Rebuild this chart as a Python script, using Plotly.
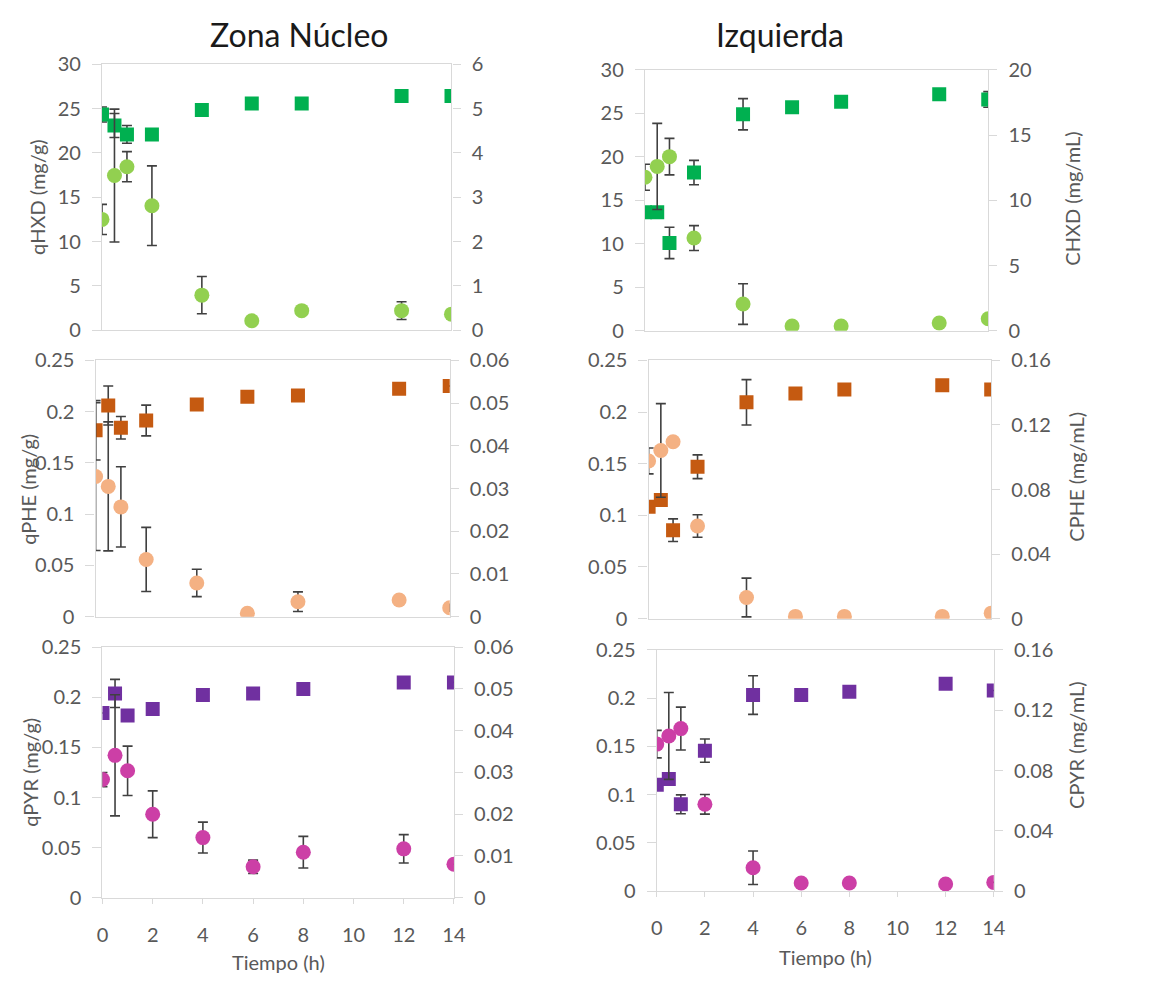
import plotly.graph_objects as go

W, H = 1163, 989

# ---------------- data ----------------
tiempo = [0, 0.5, 1, 2, 4, 6, 8, 12, 14]
x_ticks = [0, 2, 4, 6, 8, 10, 12, 14]

# Zona Núcleo - HXD
qHXD_nucleo = [24.35, 23.1, 22.1, 22.1, 24.86, 25.6, 25.6, 26.44, 26.44]
qHXD_nucleo_err = [0.85, 1.36, 1.0, 0, 0.4, 0, 0.6, 0, 0]
CHXD_nucleo = [2.5, 3.49, 3.69, 2.81, 0.79, 0.21, 0.44, 0.44, 0.36]
CHXD_nucleo_err = [0.34, 1.5, 0.34, 0.9, 0.42, 0.06, 0, 0.2, 0.1]

# Izquierda - HXD
qHXD_izq = [13.62, 13.62, 10.1, 18.2, 24.9, 25.7, 26.34, 27.2, 26.6]
qHXD_izq_err = [0, 0, 1.8, 1.4, 1.8, 0, 0, 0, 0.9]
CHXD_izq = [11.77, 12.6, 13.35, 7.11, 2.05, 0.37, 0.37, 0.6, 0.92]
CHXD_izq_err = [1.0, 3.3, 1.4, 0.95, 1.56, 0, 0, 0, 0]

# Zona Núcleo - PHE
qPHE_nucleo = [0.1818, 0.206, 0.1843, 0.1913, 0.207, 0.2145, 0.2157, 0.2224, 0.225]
qPHE_nucleo_err = [0.029, 0.019, 0.011, 0.015, 0, 0, 0, 0, 0]
CPHE_nucleo = [0.0328, 0.0305, 0.0257, 0.0134, 0.0079, 0.0008, 0.0035, 0.0039, 0.0021]
CPHE_nucleo_err = [0.0173, 0.0151, 0.0094, 0.0075, 0.0032, 0.0005, 0.0023, 0.001, 0.0008]

# Izquierda - PHE
qPHE_izq = [0.1083, 0.1149, 0.0856, 0.147, 0.2094, 0.2179, 0.2217, 0.2258, 0.2217]
qPHE_izq_err = [0, 0.004, 0.011, 0.0115, 0.022, 0, 0, 0, 0]
CPHE_izq = [0.0977, 0.1042, 0.1096, 0.0574, 0.0131, 0.0014, 0.0014, 0.0014, 0.0034]
CPHE_izq_err = [0.008, 0.029, 0, 0.007, 0.012, 0, 0, 0, 0.002]

# Zona Núcleo - PYR
qPYR_nucleo = [0.1844, 0.2039, 0.1818, 0.1883, 0.2023, 0.2039, 0.2084, 0.2149, 0.2149]
qPYR_nucleo_err = [0, 0.014, 0.004, 0, 0, 0, 0, 0, 0]
CPYR_nucleo = [0.0283, 0.0341, 0.0304, 0.020, 0.0144, 0.0074, 0.0109, 0.0117, 0.008]
CPYR_nucleo_err = [0.0017, 0.0145, 0.0059, 0.0056, 0.0037, 0.0016, 0.0038, 0.0034, 0]

# Izquierda - PYR
qPYR_izq = [0.1102, 0.1162, 0.09, 0.1456, 0.2032, 0.2032, 0.2065, 0.215, 0.2079]
qPYR_izq_err = [0, 0.004, 0.0098, 0.012, 0.02, 0, 0, 0, 0]
CPYR_izq = [0.0975, 0.1029, 0.1078, 0.0576, 0.0155, 0.0054, 0.0054, 0.0047, 0.0058]
CPYR_izq_err = [0.0091, 0.0288, 0.0142, 0.0065, 0.0111, 0, 0, 0, 0]

col_titles = ["Zona Núcleo", "Izquierda"]
left_titles = ["qHXD (mg/g)", "qPHE (mg/g)", "qPYR (mg/g)"]
right_titles = ["CHXD (mg/mL)", "CPHE (mg/mL)", "CPYR (mg/mL)"]
x_title = "Tiempo (h)"

# ---------------- styling ----------------
FONT = "Lato"
TXT = "#595959"
LINE = "#D9D9D9"
ERR = "#404040"

panels = [
    (qHXD_nucleo, qHXD_nucleo_err, CHXD_nucleo, CHXD_nucleo_err, "#00B050", "#92D050",
     [0, 30], 5, [0, 6], 1, (97.5, 452.5, 52.7, 325.0)),
    (qHXD_izq, qHXD_izq_err, CHXD_izq, CHXD_izq_err, "#00B050", "#92D050",
     [0, 30], 5, [0, 20], 5, (649.0, 997.7, 58.3, 325.7)),
    (qPHE_nucleo, qPHE_nucleo_err, CPHE_nucleo, CPHE_nucleo_err, "#C55A11", "#F4B183",
     [0, 0.25], 0.05, [0, 0.06], 0.01, (91.0, 450.7, 356.0, 618.7)),
    (qPHE_izq, qPHE_izq_err, CPHE_izq, CPHE_izq_err, "#C55A11", "#F4B183",
     [0, 0.25], 0.05, [0, 0.16], 0.04, (652.7, 1000.7, 356.0, 620.7)),
    (qPYR_nucleo, qPYR_nucleo_err, CPYR_nucleo, CPYR_nucleo_err, "#7030A0", "#CC3FA6",
     [0, 0.25], 0.05, [0, 0.06], 0.01, (98.0, 455.0, 650.0, 906.7)),
    (qPYR_izq, qPYR_izq_err, CPYR_izq, CPYR_izq_err, "#7030A0", "#CC3FA6",
     [0, 0.25], 0.05, [0, 0.16], 0.04, (661.0, 1003.3, 652.7, 900.0)),
]

fig = go.Figure()
layout = {}

for i, (q, qe, c, ce, sq_col, ci_col, lr, ld, rr, rd, box) in enumerate(panels):
    n = i + 1
    xa = "x" if n == 1 else f"x{n}"
    yl_id = 2 * n - 1
    yr_id = 2 * n
    yl = "y" if yl_id == 1 else f"y{yl_id}"
    yr = f"y{yr_id}"
    x0, x1, ytop, ybot = box
    xdom = [x0 / W, x1 / W]
    ydom = [1 - ybot / H, 1 - ytop / H]
    bottom_row = i >= 4

    layout["xaxis" if n == 1 else f"xaxis{n}"] = dict(
        domain=xdom, anchor=yl, range=[0, 14], tickvals=x_ticks,
        showline=True, linecolor=LINE, linewidth=1.3, mirror=True,
        showgrid=False, zeroline=False,
        ticks="outside" if bottom_row else "", ticklen=5, tickcolor=LINE,
        showticklabels=bottom_row, ticklabelstandoff=14,
        tickfont=dict(family=FONT, size=20, color=TXT),
    )
    layout["yaxis" if yl_id == 1 else f"yaxis{yl_id}"] = dict(
        domain=ydom, anchor=xa, range=lr, dtick=ld, tick0=0,
        showline=True, linecolor=LINE, linewidth=1.3,
        showgrid=False, zeroline=False,
        ticks="outside", ticklen=9, tickcolor=LINE,
        ticklabelstandoff=7,
        tickfont=dict(family=FONT, size=20, color=TXT),
    )
    layout[f"yaxis{yr_id}"] = dict(
        domain=ydom, anchor=xa, overlaying=yl, side="right", range=rr, dtick=rd, tick0=0,
        showline=True, linecolor=LINE, linewidth=1.3,
        showgrid=False, zeroline=False,
        ticks="outside", ticklen=8, tickcolor=LINE,
        ticklabelstandoff=7,
        tickfont=dict(family=FONT, size=20, color=TXT),
    )

    fig.add_trace(go.Scatter(
        x=tiempo, y=q, xaxis=xa, yaxis=yl, mode="markers",
        marker=dict(symbol="square", size=14, color=sq_col, line=dict(width=0)),
        error_y=dict(type="data", array=qe, visible=True, color=ERR, thickness=1.6, width=5),
        showlegend=False,
    ))
    fig.add_trace(go.Scatter(
        x=tiempo, y=c, xaxis=xa, yaxis=yr, mode="markers",
        marker=dict(symbol="circle", size=15, color=ci_col, line=dict(width=0)),
        error_y=dict(type="data", array=ce, visible=True, color=ERR, thickness=1.6, width=5),
        showlegend=False,
    ))

annotations = []
for txt, xc in zip(col_titles, [298, 786]):
    annotations.append(dict(text=txt, x=xc / W, y=1 - 22 / H, xref="paper", yref="paper",
                            showarrow=False, xanchor="center", yanchor="middle",
                            font=dict(family=FONT, size=32, color="#1a1a1a")))
for txt, (xc, yc) in zip(left_titles, [(32, 189), (22, 488), (25, 778)]):
    annotations.append(dict(text=txt, x=xc / W, y=1 - yc / H, xref="paper", yref="paper",
                            showarrow=False, textangle=-90, xanchor="center", yanchor="middle",
                            font=dict(family=FONT, size=20, color=TXT)))
for txt, (xc, yc) in zip(right_titles, [(1083, 190), (1087, 475), (1087, 750)]):
    annotations.append(dict(text=txt, x=xc / W, y=1 - yc / H, xref="paper", yref="paper",
                            showarrow=False, textangle=-90, xanchor="center", yanchor="middle",
                            font=dict(family=FONT, size=20, color=TXT)))
for xc, yc in [(277, 973), (832, 967)]:
    annotations.append(dict(text=x_title, x=xc / W, y=1 - yc / H, xref="paper", yref="paper",
                            showarrow=False, xanchor="center", yanchor="middle",
                            font=dict(family=FONT, size=20, color=TXT)))

fig.update_layout(
    width=W, height=H,
    margin=dict(l=0, r=0, t=0, b=0),
    paper_bgcolor="white", plot_bgcolor="white",
    annotations=annotations,
    **layout,
)

fig.write_html("out.html")
